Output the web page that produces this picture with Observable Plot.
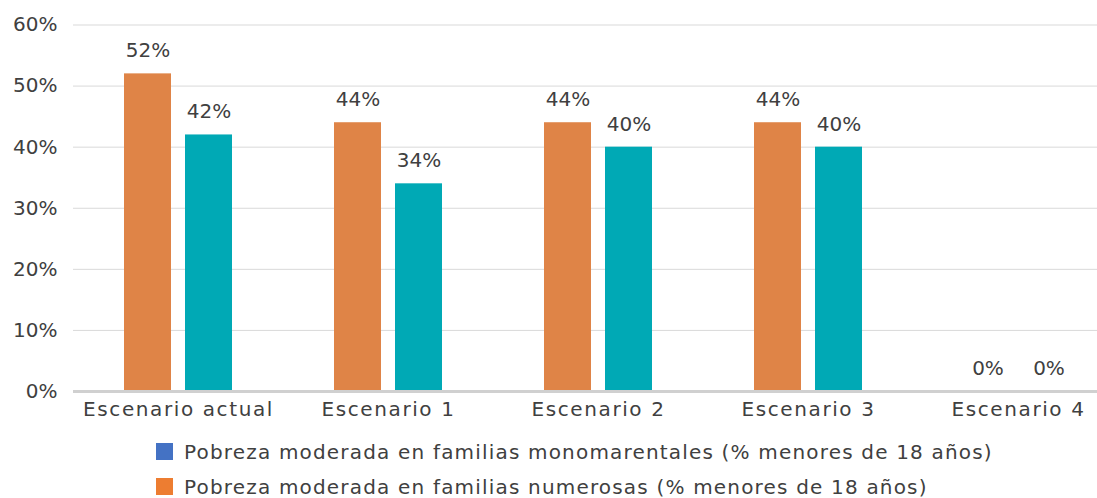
<!DOCTYPE html>
<html>
<head>
<meta charset="utf-8">
<script src="https://cdn.jsdelivr.net/npm/d3@7"></script>
<script src="https://cdn.jsdelivr.net/npm/@observablehq/plot@0.6"></script>
<style>
  html, body { margin: 0; padding: 0; background: #fff; }
  #chart svg { display: block; overflow: hidden; }
  #chart svg g[aria-label="fx-axis tick label"] text { letter-spacing: 1.6px; }
  .legend { font-family: "DejaVu Sans", sans-serif; font-size: 20px; color: #404040; padding-left: 156px; letter-spacing: 1.18px; }
  .legend .row { height: 35px; display: flex; align-items: center; }
  .legend .sw { width: 17px; height: 17px; margin-right: 11px; flex: none; }
</style>
</head>
<body>
<div id="chart"></div>
<div class="legend" id="legend"></div>
<script>
const categories = ["Escenario actual", "Escenario 1", "Escenario 2", "Escenario 3", "Escenario 4"];
const seriesNames = [
  "Pobreza moderada en familias monomarentales (% menores de 18 años)",
  "Pobreza moderada en familias numerosas (% menores de 18 años)",
  "Serie 3"
];
const seriesColors = ["#4472C4", "#DF8447", "#00A9B5"];
const legendColors = ["#4472C4", "#ED7D31"];
const monomarentales = [null, null, null, null, null];
const numerosas = [52, 44, 44, 44, 0];
const serie3 = [42, 34, 40, 40, 0];
const yTicks = [0, 10, 20, 30, 40, 50, 60];

const plotted = [seriesNames[1], seriesNames[2]];
const rows = [];
categories.forEach((c, i) => {
  rows.push({cat: c, serie: seriesNames[1], value: numerosas[i]});
  rows.push({cat: c, serie: seriesNames[2], value: serie3[i]});
});

const fig = Plot.plot({
  width: 1097,
  height: 434,
  marginLeft: 73,
  marginRight: -26,
  marginTop: 24.5,
  marginBottom: 43,
  style: {fontFamily: "DejaVu Sans", fontSize: "20px", color: "#404040", background: "#fff"},
  fx: {domain: categories, padding: 0, label: null, tickSize: 0, tickPadding: 10, axis: "bottom"},
  x: {domain: plotted, paddingInner: 0.2295, paddingOuter: 0.836, axis: null},
  y: {domain: [0, 60], ticks: yTicks, tickFormat: d => d + "%", label: null, tickSize: 0, tickPadding: 16},
  color: {domain: seriesNames, range: seriesColors},
  marks: [
    Plot.ruleY(yTicks.filter(d => d > 0), {stroke: "#d9d9d9", strokeWidth: 1}),
    Plot.barY(rows, {fx: "cat", x: "serie", y: "value", fill: "serie"}),
    Plot.ruleY([0], {stroke: "#d0d0d0", strokeWidth: 3}),
    Plot.text(rows, {fx: "cat", x: "serie", y: "value", text: d => d.value + "%", dy: -23, fontSize: 20, fill: "#404040", lineAnchor: "middle"})
  ]
});
document.getElementById("chart").appendChild(fig);

const legend = document.getElementById("legend");
[0, 1].forEach(i => {
  const row = document.createElement("div");
  row.className = "row";
  const sw = document.createElement("span");
  sw.className = "sw";
  sw.style.background = legendColors[i];
  const t = document.createElement("span");
  t.textContent = seriesNames[i];
  row.appendChild(sw);
  row.appendChild(t);
  legend.appendChild(row);
});
</script>
</body>
</html>
